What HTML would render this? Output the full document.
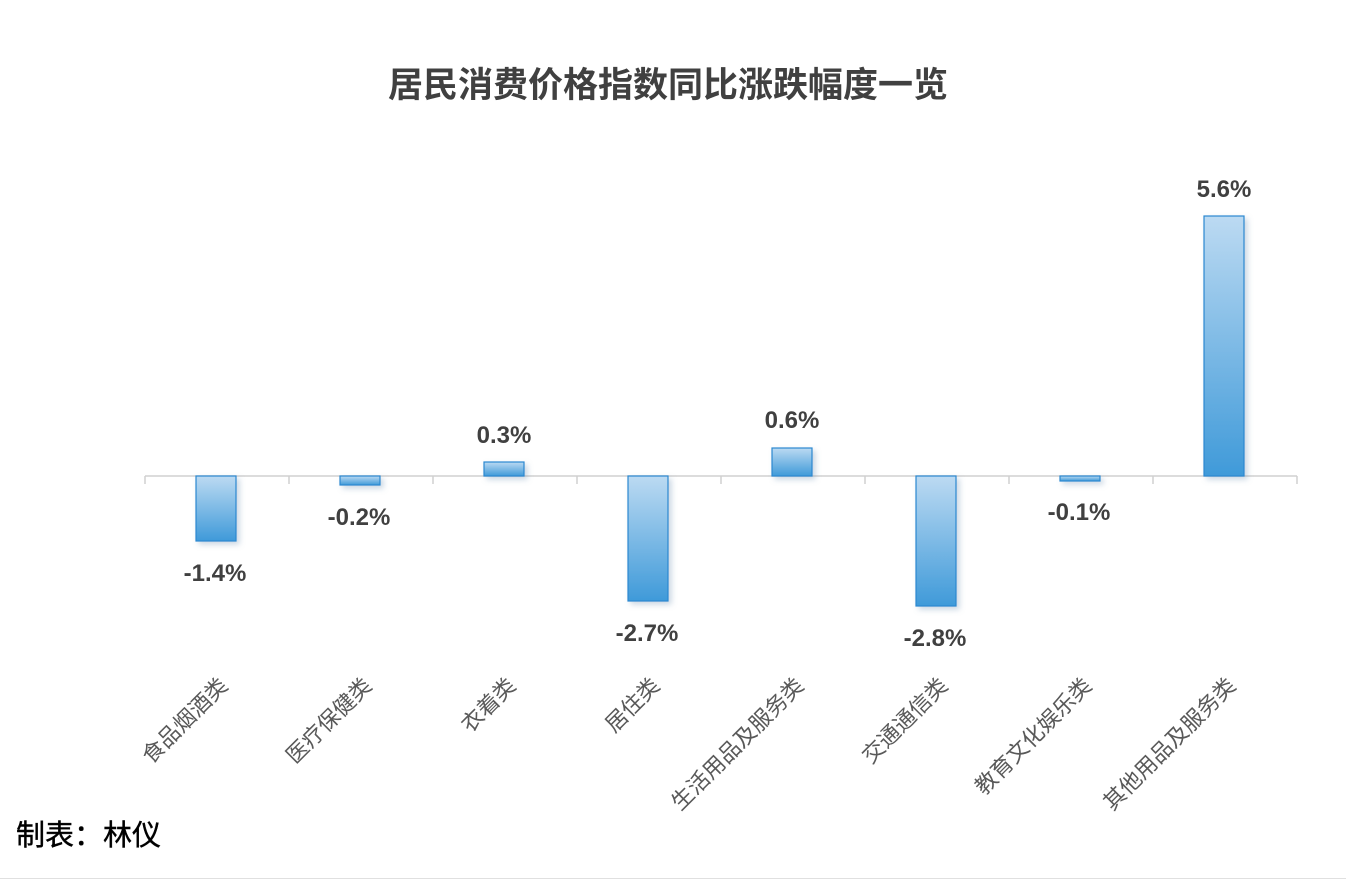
<!DOCTYPE html>
<html><head><meta charset="utf-8"><style>
html,body{margin:0;padding:0;background:#fff;}
svg{display:block;}
</style></head><body>
<svg width="1346" height="880" xmlns="http://www.w3.org/2000/svg" font-family="Liberation Sans, Noto Sans CJK SC, sans-serif">
<defs>
<linearGradient id="g" x1="0" y1="0" x2="0" y2="1">
<stop offset="0" stop-color="#bcdaf2"/><stop offset="1" stop-color="#3f9ad9"/>
</linearGradient>
<filter id="s" x="-30%" y="-10%" width="160%" height="130%"><feDropShadow dx="3" dy="3" stdDeviation="3" flood-color="#6a8fb0" flood-opacity="0.35"/></filter>
</defs>
<rect width="1346" height="880" fill="#fff"/>
<line x1="0" y1="878.5" x2="1346" y2="878.5" stroke="#e0e0e0"/>
<text x="668" y="97" text-anchor="middle" font-size="35" font-weight="bold" fill="#404040">居民消费价格指数同比涨跌幅度一览</text>
<g stroke="#d0d0d0" stroke-width="1.5">
<line x1="145" y1="476" x2="1297" y2="476"/>
<line x1="145" y1="476" x2="145" y2="484"/><line x1="289" y1="476" x2="289" y2="484"/><line x1="433" y1="476" x2="433" y2="484"/><line x1="577" y1="476" x2="577" y2="484"/><line x1="721" y1="476" x2="721" y2="484"/><line x1="865" y1="476" x2="865" y2="484"/><line x1="1009" y1="476" x2="1009" y2="484"/><line x1="1153" y1="476" x2="1153" y2="484"/><line x1="1297" y1="476" x2="1297" y2="484"/>
</g>
<g fill="url(#g)" stroke="#2b88d0" stroke-width="1.2" filter="url(#s)">
<rect x="196" y="476" width="40" height="65"/>
<rect x="340" y="476" width="40" height="9"/>
<rect x="484" y="462" width="40" height="14"/>
<rect x="628" y="476" width="40" height="125"/>
<rect x="772" y="448" width="40" height="28"/>
<rect x="916" y="476" width="40" height="130"/>
<rect x="1060" y="476" width="40" height="5"/>
<rect x="1204" y="216" width="40" height="260"/>
</g>
<g font-size="24" font-weight="bold" fill="#404040" text-anchor="middle">
<text x="215" y="581">-1.4%</text>
<text x="359" y="525">-0.2%</text>
<text x="504" y="443">0.3%</text>
<text x="647" y="641">-2.7%</text>
<text x="792" y="428">0.6%</text>
<text x="935" y="646">-2.8%</text>
<text x="1079" y="520">-0.1%</text>
<text x="1224" y="197">5.6%</text>
</g>
<g font-size="22" fill="#595959" text-anchor="end">
<text transform="translate(229,687) rotate(-45)">食品烟酒类</text>
<text transform="translate(373,687) rotate(-45)">医疗保健类</text>
<text transform="translate(517,687) rotate(-45)">衣着类</text>
<text transform="translate(661,687) rotate(-45)">居住类</text>
<text transform="translate(805,687) rotate(-45)">生活用品及服务类</text>
<text transform="translate(949,687) rotate(-45)">交通通信类</text>
<text transform="translate(1093,687) rotate(-45)">教育文化娱乐类</text>
<text transform="translate(1237,687) rotate(-45)">其他用品及服务类</text>
</g>
<text x="16" y="845" font-size="29" fill="#000" stroke="#000" stroke-width="0.4">制表：林仪</text>
</svg>
</body></html>
